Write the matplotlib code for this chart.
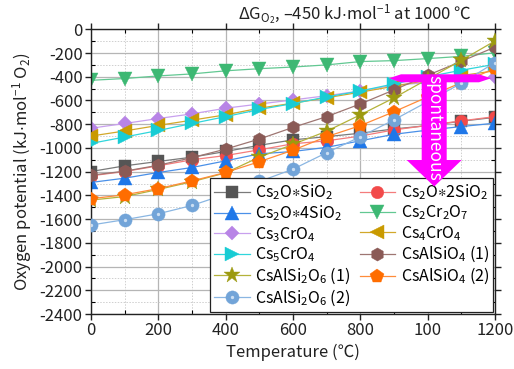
import matplotlib
matplotlib.use("Agg")
import matplotlib.pyplot as plt
from matplotlib.ticker import MultipleLocator, FixedLocator, FixedFormatter
from matplotlib.patches import Polygon
from matplotlib.legend_handler import HandlerTuple

plt.rcParams['font.family'] = ['Noto Sans CJK SC', 'DejaVu Sans']
plt.rcParams['mathtext.fontset'] = 'custom'
plt.rcParams['mathtext.rm'] = 'Noto Sans CJK SC'
plt.rcParams['mathtext.it'] = 'Noto Sans CJK SC'
plt.rcParams['mathtext.default'] = 'regular'
plt.rcParams['axes.unicode_minus'] = False

# ---------------- data ----------------
temperature = [0, 100, 200, 300, 400, 500, 600, 700, 800, 900, 1000, 1100, 1200]

cs2o_sio2   = [-1199, -1151, -1114, -1078, -1030, -978, -932, -905, -876, -840, -812, -775, -742]
cs2o_2sio2  = [-1235, -1199, -1151, -1100, -1064, -1016, -965, -940, -900, -848, -810, -772, -736]
cs2o_4sio2  = [-1291, -1255, -1207, -1165, -1109, -1050, -1030, -995, -940, -885, -850, -820, -791]
cs2cr2o7    = [-430, -415, -393, -376, -350, -332, -318, -300, -272, -264, -247, -228, -198]
cs3cro4     = [-834, -794, -752, -713, -665, -630, -595, -560, -520, -470, -450, -430, -405]
cs4cro4     = [-900, -857, -810, -766, -721, -665, -623, -577, -530, -480, -430, -390, -350]
cs5cro4     = [-962, -908, -853, -794, -736, -676, -626, -570, -520, -460, -400, -345, -295]
csalsio4_1  = [-1230, -1196, -1146, -1082, -1010, -925, -827, -736, -629, -511, -388, -270, -150]
csalsi2o6_1 = [-1440, -1410, -1350, -1285, -1210, -1078, -970, -859, -721, -578, -420, -262, -98]
csalsio4_2  = [-1428, -1395, -1343, -1278, -1207, -1116, -1019, -905, -812, -695, -570, -450, -330]
csalsi2o6_2 = [-1650, -1605, -1555, -1485, -1390, -1283, -1179, -1040, -906, -763, -610, -455, -280]

labels = [r'Cs$_2$O$\ast$SiO$_2$', r'Cs$_2$O$\ast$2SiO$_2$', r'Cs$_2$O$\ast$4SiO$_2$',
          r'Cs$_2$Cr$_2$O$_7$', r'Cs$_3$CrO$_4$', r'Cs$_4$CrO$_4$', r'Cs$_5$CrO$_4$',
          r'CsAlSiO$_4$ (1)', r'CsAlSi$_2$O$_6$ (1)', r'CsAlSiO$_4$ (2)', r'CsAlSi$_2$O$_6$ (2)']

xtick_labels = ['0', '200', '400', '600', '800', '100', '1200']
ytick_values = list(range(-2400, 1, 200))

series = [cs2o_sio2, cs2o_2sio2, cs2o_4sio2, cs2cr2o7, cs3cro4, cs4cro4, cs5cro4,
          csalsio4_1, csalsi2o6_1, csalsio4_2, csalsi2o6_2]

# style per series: (marker, size, marker colour, line colour)
styles = [
    ('s', 8.0, '#555555', '#7a7a7a'),
    ('o', 9.0, '#f24a4a', '#f47c7c'),
    ('^', 9.5, '#1f77e8', '#4a90e8'),
    ('v', 9.5, '#3db873', '#62c892'),
    ('D', 7.5, '#b884e6', '#c8a0ee'),
    ('<', 9.5, '#c99a00', '#d2a82a'),
    ('>', 9.5, '#18ccd4', '#30d6dc'),
    ('h', 9.5, '#8a5a56', '#9e7672'),
    ('*', 12.0, '#9c9a10', '#b4b23a'),
    ('p', 10.0, '#ff6d00', '#ff8c3a'),
    ('o', 9.5, '#72a4d8', '#8ab6e2'),
]

fig = plt.figure(figsize=(5.14, 3.69), dpi=100)
L, R, T, B = 91, 495, 29.3, 314
W, H = 514, 369
ax = fig.add_axes([L / W, 1 - B / H, (R - L) / W, (B - T) / H])

handles = []
for i, (ys, (mk, ms, mc, lc)) in enumerate(zip(series, styles)):
    h, = ax.plot(temperature, ys, ls='-', color=lc, lw=0.9, marker=mk, ms=ms,
                 markerfacecolor=mc, markeredgecolor=mc, markeredgewidth=0.3,
                 zorder=2.05 + i * 0.1)
    if i == 10:
        hl, = ax.plot(temperature, ys, ls='none', marker='o', ms=2.4,
                      markerfacecolor='#dbe9f7', markeredgewidth=0, alpha=0.85,
                      zorder=2.07 + i * 0.1)
        handles.append((h, hl))
    else:
        handles.append(h)

ax.set_xlim(0, 1200)
ax.set_ylim(-2400, 0)
ax.xaxis.set_major_locator(FixedLocator([0, 200, 400, 600, 800, 1000, 1200]))
ax.xaxis.set_major_formatter(FixedFormatter(xtick_labels))
ax.xaxis.set_minor_locator(MultipleLocator(100))
ax.yaxis.set_major_locator(FixedLocator(ytick_values))
ax.set_yticklabels([str(v) for v in ytick_values])
ax.yaxis.set_minor_locator(MultipleLocator(100))

ax.grid(which='major', color='#b5b5b5', lw=0.9, ls='-', zorder=0)
ax.grid(which='minor', color='#cfcfcf', lw=0.7, ls=(0, (1.5, 1.5)), zorder=0)
ax.set_axisbelow(True)

ax.tick_params(which='major', direction='out', length=4, width=1, labelsize=12,
               colors='#222222', labelcolor='#222222', pad=2)
ax.tick_params(which='minor', direction='in', length=3, width=0.8)
ax.tick_params(which='both', top=True, right=True)
for s in ax.spines.values():
    s.set_linewidth(1)
    s.set_color('#222222')

ax.set_xlabel('Temperature (℃)', fontsize=12, color='#222222', labelpad=3)
ax.set_ylabel(r'Oxygen potential (kJ$\cdot$mol$^{-1}$ O$_2$)', fontsize=12,
              color='#222222', labelpad=4)

fig.text(238 / W, 1 - 15 / H,
         r'$\Delta$G$_{O_2}$, –450 kJ$\cdot$mol$^{-1}$ at 1000 ℃',
         ha='left', va='center', fontsize=12, color='#222222')

# legend: column-major order (6 in first column, 5 in second)
order = [0, 2, 4, 6, 8, 10, 1, 3, 5, 7, 9]
leg = ax.legend([handles[k] for k in order], [labels[k] for k in order],
                ncol=2, loc='lower right', bbox_to_anchor=(0.995, 0.008),
                fontsize=11.5, frameon=True, fancybox=False, framealpha=1,
                edgecolor='#222222', borderpad=0.25, labelspacing=0.1,
                handlelength=2.2, handletextpad=0.35, columnspacing=0.6,
                borderaxespad=0, handler_map={tuple: HandlerTuple(ndivide=1)})
leg.get_frame().set_linewidth(0.9)
leg.set_zorder(5)

# magenta "spontaneous" arrow (axes-fraction coordinates from pixel geometry)
def fx(px):
    return (px - L) / (R - L)

def fy(py):
    return (B - py) / (B - T)

bar = Polygon([(fx(389), fy(78.3)), (fx(401), fy(74.3)), (fx(479), fy(74.3)),
               (fx(491), fy(78.3)), (fx(479), fy(82.3)), (fx(401), fy(82.3))],
              closed=True, transform=ax.transAxes, facecolor='#ff00ff',
              edgecolor='none', zorder=6, clip_on=False)
ax.add_patch(bar)
arrow = Polygon([(fx(421.7), fy(78)), (fx(446.7), fy(78)), (fx(446.7), fy(160)),
                 (fx(461.7), fy(160)), (fx(434.2), fy(186.5)), (fx(406.7), fy(160)),
                 (fx(421.7), fy(160))],
                closed=True, transform=ax.transAxes, facecolor='#ff00ff',
                edgecolor='none', zorder=6, clip_on=False)
ax.add_patch(arrow)
ax.text(fx(434.2), fy(128), 'spontaneous', transform=ax.transAxes, rotation=270,
        ha='center', va='center', color='white', fontsize=12.5, zorder=7)

fig.savefig('out.png', dpi=100)
